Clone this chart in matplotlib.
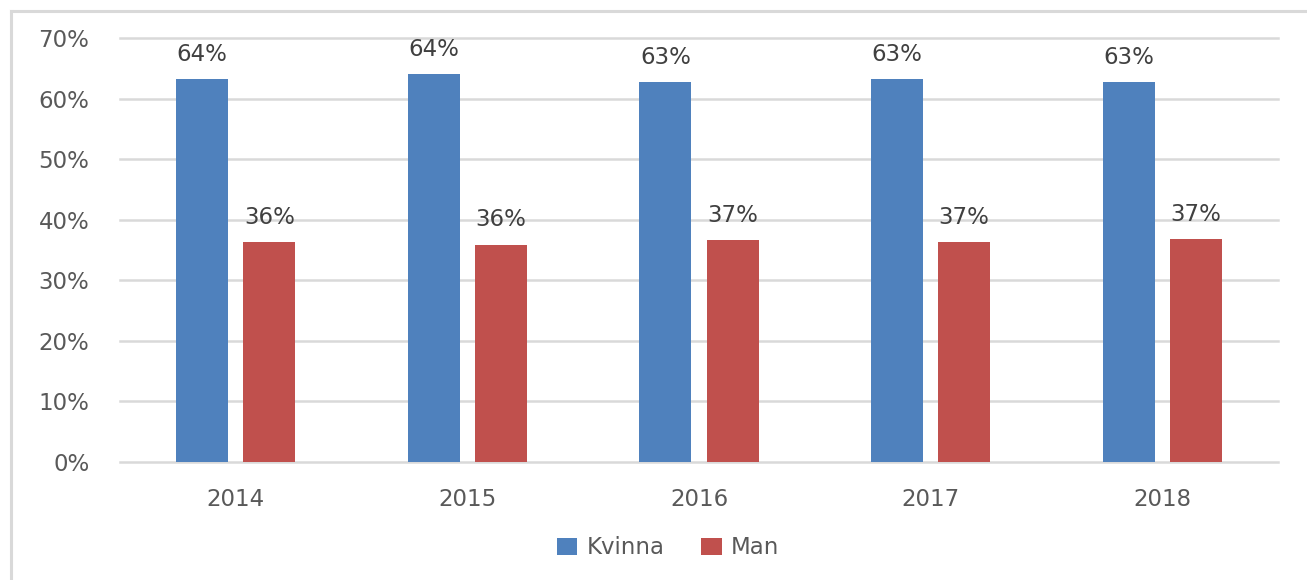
import matplotlib
matplotlib.use("Agg")
import matplotlib.pyplot as plt
from matplotlib.lines import Line2D
from matplotlib.patches import Patch
import numpy as np

years = ["2014", "2015", "2016", "2017", "2018"]
kvinna = [63.2, 64.1, 62.8, 63.2, 62.7]
man = [36.3, 35.9, 36.7, 36.3, 36.8]
kvinna_labels = ["64%", "64%", "63%", "63%", "63%"]
man_labels = ["36%", "36%", "37%", "37%", "37%"]
yticks = [0, 10, 20, 30, 40, 50, 60, 70]

BLUE = "#4F81BD"
RED = "#C0504D"
GRID = "#D9D9D9"
TXT = "#595959"
LBL = "#404040"

plt.rcParams["font.family"] = ["DejaVu Sans"]

W, H = 1307, 580
fig = plt.figure(figsize=(W / 100, H / 100), dpi=100)
ax = fig.add_axes([120 / W, 1 - 462 / H, (1278 - 120) / W, (462 - 38) / H])

x = np.arange(len(years))
bw = 0.225
off = 0.145
b1 = ax.bar(x - off, kvinna, bw, color=BLUE, zorder=3)
b2 = ax.bar(x + off, man, bw, color=RED, zorder=3)

for rects, labs in ((b1, kvinna_labels), (b2, man_labels)):
    for r, lab in zip(rects, labs):
        ax.annotate(lab, (r.get_x() + r.get_width() / 2, r.get_height()),
                    xytext=(0, 13), textcoords="offset points",
                    ha="center", va="baseline", fontsize=16.5, color=LBL)

ax.set_xlim(-0.5, len(years) - 0.5)
ax.set_ylim(0, 70)
ax.set_yticks(yticks)
ax.set_yticklabels([f"{v}%" for v in yticks])
ax.set_xticks(x)
ax.set_xticklabels(years)
ax.tick_params(axis="y", length=0, pad=22, labelsize=16.5, labelcolor=TXT)
ax.tick_params(axis="x", length=0, pad=19, labelsize=16.5, labelcolor=TXT)
ax.grid(axis="y", color=GRID, linewidth=1.8, zorder=0)
for gl in ax.get_ygridlines():
    gl.set_clip_on(False)
for s in ax.spines.values():
    s.set_visible(False)

handles = [Patch(facecolor=BLUE, label="Kvinna"), Patch(facecolor=RED, label="Man")]
fig.legend(handles=handles, loc="center", bbox_to_anchor=(668 / W, 1 - 548 / H),
           ncol=2, frameon=False, fontsize=16.5, labelcolor=TXT,
           handlelength=0.9, handleheight=0.75, handletextpad=0.4, columnspacing=1.6)

# outer chart frame
fig.add_artist(Line2D([11 / W, 11 / W], [0, 1 - 11 / H], color=GRID, linewidth=2.2,
                      transform=fig.transFigure))
fig.add_artist(Line2D([11 / W, 1.01], [1 - 11 / H, 1 - 11 / H], color=GRID, linewidth=2.2,
                      transform=fig.transFigure))

fig.savefig("out.png", dpi=100, facecolor="white")
